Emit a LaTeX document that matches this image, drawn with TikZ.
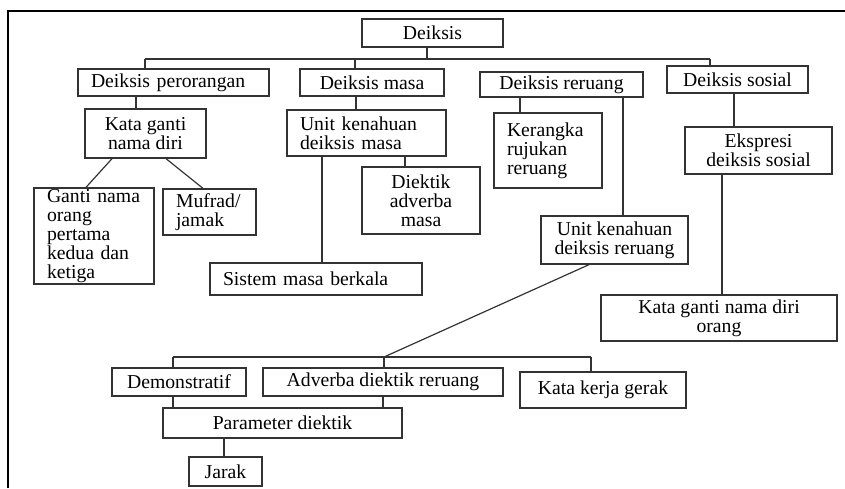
\documentclass[tikz,border=0pt]{standalone}
\usepackage{fontspec}
\setmainfont{Liberation Serif}
\usetikzlibrary{positioning}
\newcommand{\diagfont}{\fontsize{19.7}{19}\selectfont}

\begin{document}
\begin{tikzpicture}[x=1pt, y=-1pt,
                    tbox/.style 2 args = {draw=black!80, line width=1.3pt, inner xsep=4pt, inner ysep=0pt,
                                          minimum width=#1, minimum height=#2, align=center, font=\diagfont},
                    lbox/.style = {align=left, inner xsep=13pt, text width=#1},
                    link/.style = {draw=black!80, line width=1.2pt}
                   ]

    \useasboundingbox (0,0) rectangle (845,488);
    % frame
    \draw[line width=1.3pt] (8,488) -- (8,11) -- (845,11);

    % top level
    \node[tbox={141pt}{28pt}] (deiksis) at (432.5,33) {Deiksis};
    \node[tbox={191pt}{27pt}, lbox=165pt] (perorangan) at (173.5,82.5) {Deiksis perorangan};
    \node[tbox={144pt}{27pt}] (masa) at (372,82.5) {Deiksis masa};
    \node[tbox={163pt}{25pt}] (reruang) at (561.5,84.5) {Deiksis reruang};
    \node[tbox={141pt}{27pt}] (sosial) at (737.5,79.5) {Deiksis sosial};

    % second level
    \node[tbox={121pt}{49pt}] (katadiri) at (145.5,133.5) {Kata ganti\\nama diri};
    \node[tbox={159pt}{46pt}, lbox=133pt] (unitmasa) at (366.5,133) {Unit kenahuan\\deiksis masa};
    \node[tbox={108pt}{75pt}, lbox=82pt] (kerangka) at (548,150.5) {Kerangka\\rujukan\\reruang};
    \node[tbox={147pt}{47pt}] (ekspresi) at (758.5,150.5) {Ekspresi\\deiksis sosial};

    % third level
    \node[tbox={120pt}{96pt}, lbox=94pt] (ganti) at (94,236) {Ganti nama\\orang\\pertama\\kedua dan\\ketiga};
    \node[tbox={93pt}{46pt}, lbox=67pt] (mufrad) at (209.5,212) {Mufrad/\\jamak};
    \node[tbox={118pt}{67pt}] (advmasa) at (421,200.5) {Diektik\\adverba\\masa};
    \node[tbox={212pt}{32pt}, lbox=186pt] (sistem) at (316,279) {Sistem masa berkala};
    \node[tbox={147pt}{48pt}] (unitreruang) at (614.5,240) {Unit kenahuan\\deiksis reruang};
    \node[tbox={236pt}{46pt}] (gantiorang) at (719,318) {Kata ganti nama diri\\orang};

    % bottom group
    \node[tbox={134pt}{28pt}] (demo) at (179,382) {Demonstratif};
    \node[tbox={240pt}{28pt}] (adverba) at (383,382) {Adverba diektik reruang};
    \node[tbox={166pt}{36pt}] (kerja) at (603,390) {Kata kerja gerak};
    \node[tbox={239pt}{30pt}] (param) at (282.5,423) {Parameter diektik};
    \node[tbox={73pt}{29pt}] (jarak) at (225.5,471.5) {Jarak};

    % upper bus
    \coordinate (bus) at (427,59);
    \coordinate (busL) at (145,59);
    \coordinate (busM) at (355,59);
    \coordinate (busR) at (710,59);
    \draw[link] (deiksis.south -| bus) -- (bus);
    \draw[link] (busL) -- (busR);
    \draw[link] (busL) -- (busL |- perorangan.north);
    \draw[link] (busM) -- (busM |- masa.north);
    \draw[link] (busR) -- (busR |- sosial.north);

    % branches
    \draw[link] (136,0 |- perorangan.south) -- (136,0 |- katadiri.north);
    \draw[link] (112,0 |- katadiri.south) -- (86,0 |- ganti.north);
    \draw[link] (166,0 |- katadiri.south) -- (203,0 |- mufrad.north);
    \draw[link] (356,0 |- masa.south) -- (356,0 |- unitmasa.north);
    \draw[link] (405,0 |- unitmasa.south) -- (405,0 |- advmasa.north);
    \draw[link] (322,0 |- unitmasa.south) -- (322,0 |- sistem.north);
    \draw[link] (520,0 |- reruang.south) -- (520,0 |- kerangka.north);
    \draw[link] (623,0 |- reruang.south) -- (623,0 |- unitreruang.north);
    \draw[link] (734,0 |- sosial.south) -- (734,0 |- ekspresi.north);
    \draw[link] (722,0 |- ekspresi.south) -- (722,0 |- gantiorang.north);

    % lower bus
    \coordinate (low) at (384,357);
    \coordinate (lowL) at (173,357);
    \coordinate (lowR) at (591,357);
    \draw[link] (589,0 |- unitreruang.south) -- (low);
    \draw[link] (lowL) -- (lowR);
    \draw[link] (lowL) -- (lowL |- demo.north);
    \draw[link] (low) -- (low |- adverba.north);
    \draw[link] (lowR) -- (lowR |- kerja.north);
    \draw[link] (173,0 |- demo.south) -- (173,0 |- param.north);
    \draw[link] (383,0 |- adverba.south) -- (383,0 |- param.north);
    \draw[link] (224,0 |- param.south) -- (224,0 |- jarak.north);

\end{tikzpicture}
\end{document}
